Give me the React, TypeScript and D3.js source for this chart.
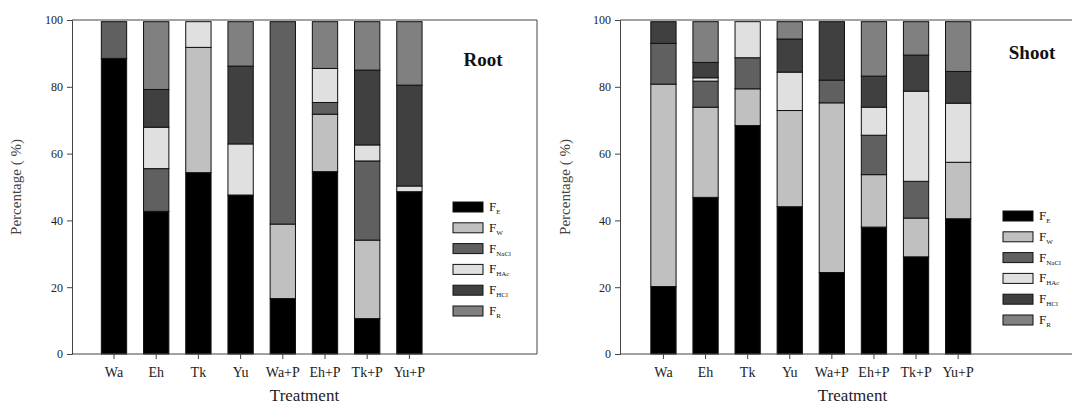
import { useEffect, useRef } from "react";
import * as d3 from "d3";

const treatments = ["Wa", "Eh", "Tk", "Yu", "Wa+P", "Eh+P", "Tk+P", "Yu+P"];
const fractionKeys = ["FE", "FW", "FNaCl", "FHAc", "FHCl", "FR"];
const fractionSubs = ["E", "W", "NaCl", "HAc", "HCl", "R"];
const fractionColors = ["#000000", "#c0c0c0", "#606060", "#e0e0e0", "#404040", "#808080"];
const yTicks = [0, 20, 40, 60, 80, 100];

// Root (%)
const rootFE = [88.5, 42.7, 54.3, 47.6, 16.6, 54.6, 10.6, 48.6];
const rootFW = [0, 0, 37.5, 0, 22.3, 17.2, 23.5, 0];
const rootFNaCl = [11.0, 12.8, 0, 0, 60.6, 3.5, 23.7, 0];
const rootFHAc = [0, 12.4, 7.7, 15.3, 0, 10.2, 4.8, 1.7];
const rootFHCl = [0, 11.3, 0, 23.3, 0, 0, 22.4, 30.2];
const rootFR = [0, 20.3, 0, 13.3, 0, 14.0, 14.5, 19.0];

// Shoot (%)
const shootFE = [20.2, 46.9, 68.4, 44.1, 24.4, 38.0, 29.1, 40.5];
const shootFW = [60.6, 27.0, 11.0, 28.8, 50.8, 15.7, 11.6, 16.9];
const shootFNaCl = [12.2, 7.8, 9.3, 0, 6.8, 11.8, 11.0, 0];
const shootFHAc = [0, 1.0, 10.8, 11.5, 0, 8.4, 27.0, 17.7];
const shootFHCl = [6.5, 4.6, 0, 9.9, 17.5, 9.3, 10.8, 9.5];
const shootFR = [0, 12.2, 0, 5.2, 0, 16.3, 10.0, 14.9];

const rootSeries = [rootFE, rootFW, rootFNaCl, rootFHAc, rootFHCl, rootFR];
const shootSeries = [shootFE, shootFW, shootFNaCl, shootFHAc, shootFHCl, shootFR];

const SERIF = "'Liberation Serif', 'DejaVu Serif', serif";

interface PanelProps {
  axisX: number;
  frameRight: number;
  bandStart: number;
  step: number;
  title: string;
  titleX: number;
  titleY: number;
  legendX: number;
  legendY: number;
  labelX: number;
  series: number[][];
}

const top = 20;
const bottom = 354;

function drawPanel(
  svg: d3.Selection<SVGSVGElement, unknown, null, undefined>,
  p: PanelProps
) {
  const g = svg.append("g");

  const rows = treatments.map((t, i) => {
    const row: Record<string, any> = { treatment: t };
    fractionKeys.forEach((k, j) => (row[k] = p.series[j][i]));
    return row;
  });

  const x = d3
    .scaleBand()
    .domain(treatments)
    .range([p.bandStart, p.bandStart + p.step * treatments.length])
    .paddingInner(0.4)
    .paddingOuter(0.2);

  const y = d3.scaleLinear().domain([0, 100]).range([bottom, top]);

  // frame
  g.append("path")
    .attr("d", `M${p.axisX},${top}H${p.frameRight}V${bottom}`)
    .attr("fill", "none")
    .attr("stroke", "#444")
    .attr("stroke-width", 1);

  const stack = d3.stack<any>().keys(fractionKeys);
  const layers = stack(rows as any);

  g.selectAll("g.layer")
    .data(layers)
    .enter()
    .append("g")
    .attr("class", "layer")
    .attr("fill", (_, i) => fractionColors[i])
    .selectAll("rect")
    .data((d) => d.filter((s) => s[1] - s[0] > 0))
    .enter()
    .append("rect")
    .attr("x", (d: any) => x(d.data.treatment)!)
    .attr("width", x.bandwidth())
    .attr("y", (d) => y(d[1]))
    .attr("height", (d) => y(d[0]) - y(d[1]))
    .attr("stroke", "#111")
    .attr("stroke-width", 1);

  // y axis
  const yAxis = d3.axisLeft(y).tickValues(yTicks).tickSize(5).tickPadding(4);
  g.append("g")
    .attr("transform", `translate(${p.axisX},0)`)
    .call(yAxis)
    .call((a) => a.select(".domain").attr("stroke", "#444"))
    .call((a) => a.selectAll(".tick line").attr("stroke", "#444"))
    .call((a) =>
      a
        .selectAll(".tick text")
        .attr("font-family", SERIF)
        .attr("font-size", 12)
        .attr("fill", "#222")
    );

  // x axis
  const xAxis = d3.axisBottom(x).tickSize(5).tickPadding(8).tickSizeOuter(0);
  g.append("g")
    .attr("transform", `translate(0,${bottom})`)
    .call(xAxis)
    .call((a) => a.select(".domain").remove())
    .call((a) => a.selectAll(".tick line").attr("stroke", "#444"))
    .call((a) =>
      a
        .selectAll(".tick text")
        .attr("font-family", SERIF)
        .attr("font-size", 14)
        .attr("fill", "#222")
    );
  g.append("line")
    .attr("x1", p.axisX)
    .attr("x2", p.frameRight)
    .attr("y1", bottom)
    .attr("y2", bottom)
    .attr("stroke", "#444");

  // axis titles
  g.append("text")
    .attr("x", (p.axisX + p.frameRight) / 2)
    .attr("y", 401)
    .attr("text-anchor", "middle")
    .attr("font-family", SERIF)
    .attr("font-size", 17)
    .attr("fill", "#222")
    .text("Treatment");

  g.append("text")
    .attr("transform", `translate(${p.labelX},${(top + bottom) / 2}) rotate(-90)`)
    .attr("text-anchor", "middle")
    .attr("dominant-baseline", "middle")
    .attr("font-family", SERIF)
    .attr("font-size", 15)
    .attr("fill", "#444")
    .text("Percentage ( %)");

  // panel title
  g.append("text")
    .attr("x", p.titleX)
    .attr("y", p.titleY)
    .attr("text-anchor", "middle")
    .attr("font-family", SERIF)
    .attr("font-weight", "bold")
    .attr("font-size", 19)
    .attr("fill", "#111")
    .text(p.title);

  // legend
  const legend = g
    .append("g")
    .attr("transform", `translate(${p.legendX},${p.legendY})`);
  fractionKeys.forEach((k, i) => {
    const item = legend.append("g").attr("transform", `translate(0,${i * 20.8})`);
    item
      .append("rect")
      .attr("x", 0)
      .attr("y", -5)
      .attr("width", 30)
      .attr("height", 10)
      .attr("fill", fractionColors[i])
      .attr("stroke", "#111");
    const t = item
      .append("text")
      .attr("x", 36)
      .attr("y", 4)
      .attr("font-family", SERIF)
      .attr("font-size", 13)
      .attr("fill", "#111");
    t.append("tspan").text("F");
    t.append("tspan")
      .attr("font-size", 7)
      .attr("dy", 3)
      .text(fractionSubs[i]);
  });
}

export default function App() {
  const ref = useRef<SVGSVGElement>(null);

  useEffect(() => {
    const svg = d3.select(ref.current!);
    svg.selectAll("*").remove();

    drawPanel(svg, {
      axisX: 72,
      frameRight: 537,
      bandStart: 92.9,
      step: 42.2,
      title: "Root",
      titleX: 483,
      titleY: 66,
      legendX: 453,
      legendY: 207,
      labelX: 18,
      series: rootSeries,
    });

    drawPanel(svg, {
      axisX: 620,
      frameRight: 1085,
      bandStart: 642.4,
      step: 42.1,
      title: "Shoot",
      titleX: 1032,
      titleY: 59,
      legendX: 1003,
      legendY: 216,
      labelX: 567,
      series: shootSeries,
    });
  }, []);

  return (
    <svg
      ref={ref}
      width={1072}
      height={408}
      style={{ position: "absolute", left: 0, top: 0, background: "#fff" }}
    />
  );
}
